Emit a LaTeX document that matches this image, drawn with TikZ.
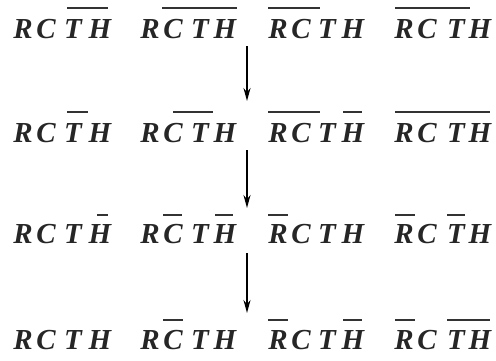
\documentclass[tikz,border=0pt]{standalone}
\usepackage{fontspec}
\setmainfont{Liberation Serif}
\usetikzlibrary{arrows.meta}
\begin{document}
\begin{tikzpicture}[x=1pt,y=-1pt,
  letter/.style={anchor=base,inner sep=0pt,font=\fontsize{29}{31}\selectfont\bfseries\itshape,text=black!85},
  bar/.style={line width=1.5pt,black!80},
  arr/.style={line width=1.6pt,-{Stealth[length=13pt,width=7pt]}}]
\useasboundingbox (0,0) rectangle (496,360);
% letters: columns shared by all rows
\foreach \row/\base in {1/38,2/142,3/243,4/349}{
  \foreach \g/\xr/\xc/\xt/\xh in {1/23/46/73/100, 2/150/173/200/225, 3/278/301/327/353, 4/404/427/456/480}{
    \node[letter] (R\row\g) at (\xr,\base) {R};
    \node[letter] (C\row\g) at (\xc,\base) {C};
    \node[letter] (T\row\g) at (\xt,\base) {T};
    \node[letter] (H\row\g) at (\xh,\base) {H};
  }
}
% row 1 bars
\draw[bar] (67,8) -- (108,8);
\draw[bar] (162,8) -- (237,8);
\draw[bar] (268,8) -- (320,8);
\draw[bar] (395,8) -- (470,8);
% row 2 bars
\draw[bar] (67,112) -- (88,112);
\draw[bar] (173,112) -- (213,112);
\draw[bar] (268,112) -- (320,112);
\draw[bar] (343,112) -- (362,112);
\draw[bar] (395,112) -- (490,112);
% row 3 bars
\draw[bar] (97,215) -- (108,215);
\draw[bar] (163,215) -- (182,215);
\draw[bar] (215,215) -- (233,215);
\draw[bar] (268,215) -- (288,215);
\draw[bar] (395,215) -- (415,215);
\draw[bar] (447,215) -- (465,215);
% row 4 bars
\draw[bar] (163,320) -- (183,320);
\draw[bar] (268,320) -- (288,320);
\draw[bar] (343,320) -- (362,320);
\draw[bar] (395,320) -- (415,320);
\draw[bar] (447,320) -- (490,320);
% arrows
\coordinate (a1) at (247,46);  \coordinate (b1) at (247,101);
\coordinate (a2) at (247,150); \coordinate (b2) at (247,208);
\coordinate (a3) at (247,253); \coordinate (b3) at (247,313);
\draw[arr] (a1) -- (b1);
\draw[arr] (a2) -- (b2);
\draw[arr] (a3) -- (b3);
\end{tikzpicture}
\end{document}
